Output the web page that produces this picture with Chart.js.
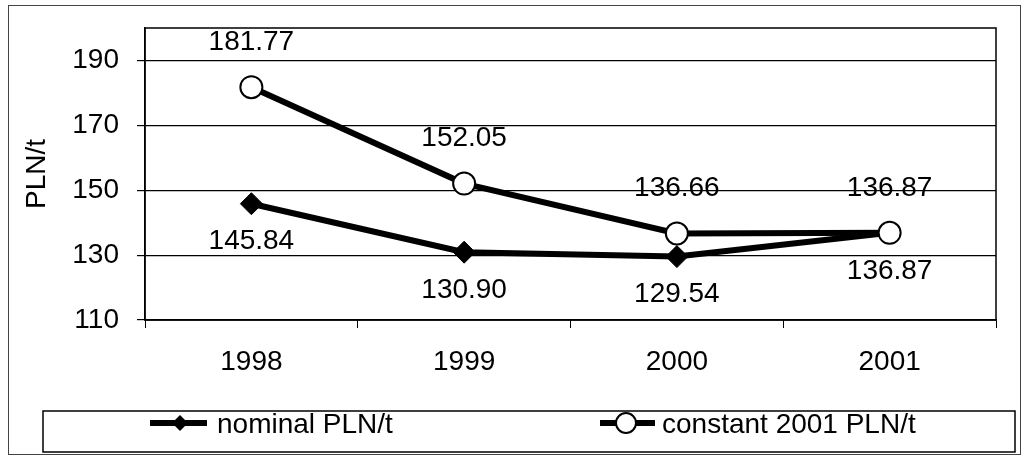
<!DOCTYPE html>
<html lang="en">
<head>
  <meta charset="UTF-8">
  <title>PLN/t</title>
  <script src="https://cdn.jsdelivr.net/npm/chart.js"></script>
  <style>
    html, body { margin: 0; padding: 0; background: #fff; }
    #wrap { width: 1025px; height: 457px; }
  </style>
</head>
<body>
  <div id="wrap"><canvas id="myChart" width="1025" height="457"></canvas></div>
  <script>
    const years = ['1998', '1999', '2000', '2001'];
    const nominal = [145.84, 130.90, 129.54, 136.87];
    const constant2001 = [181.77, 152.05, 136.66, 136.87];
    const yTickValues = [110, 130, 150, 170, 190];
    const seriesNames = ['nominal PLN/t', 'constant 2001 PLN/t'];

    const FONT = '"Liberation Sans", Arial, sans-serif';
    const big = { family: FONT, size: 28 };

    // labels next to each point: constant above, nominal below
    const pointLabels = {
      id: 'pointLabels',
      afterDatasetsDraw(chart) {
        const ctx = chart.ctx;
        ctx.save();
        ctx.font = '28px ' + FONT;
        ctx.fillStyle = '#000';
        ctx.textAlign = 'center';
        ctx.textBaseline = 'middle';
        chart.data.datasets.forEach((ds, i) => {
          const meta = chart.getDatasetMeta(i);
          const off = ds.label === seriesNames[1] ? -45 : 38;
          meta.data.forEach((pt, j) => {
            ctx.fillText(ds.data[j].toFixed(2), pt.x, pt.y + off);
          });
        });
        ctx.restore();
      }
    };

    // plot frame
    const frame = {
      id: 'frame',
      beforeDatasetsDraw(chart) {
        const a = chart.chartArea;
        const ctx = chart.ctx;
        ctx.save();
        ctx.strokeStyle = '#000';
        ctx.lineWidth = 1.5;
        ctx.strokeRect(a.left, a.top, a.right - a.left, a.bottom - a.top);
        ctx.restore();
      }
    };

    // legend box and outer border
    const boxLegend = {
      id: 'boxLegend',
      afterDraw(chart) {
        const ctx = chart.ctx;
        ctx.save();
        ctx.strokeStyle = '#444';
        ctx.lineWidth = 1;
        ctx.strokeRect(8.5, 5.5, 1012, 449);
        ctx.strokeStyle = '#000';
        ctx.lineWidth = 1.5;
        ctx.strokeRect(43, 411, 972, 41);

        const ly = 423;
        ctx.lineWidth = 6;
        ctx.beginPath();
        ctx.moveTo(150, ly); ctx.lineTo(207, ly);
        ctx.moveTo(600, ly); ctx.lineTo(655, ly);
        ctx.stroke();

        ctx.fillStyle = '#000';
        ctx.beginPath();
        ctx.moveTo(180, ly - 8); ctx.lineTo(188, ly); ctx.lineTo(180, ly + 8); ctx.lineTo(172, ly);
        ctx.closePath();
        ctx.fill();

        ctx.fillStyle = '#fff';
        ctx.lineWidth = 2;
        ctx.beginPath();
        ctx.arc(626, ly, 10, 0, Math.PI * 2);
        ctx.fill();
        ctx.stroke();

        ctx.fillStyle = '#000';
        ctx.font = '28px ' + FONT;
        ctx.textAlign = 'left';
        ctx.textBaseline = 'alphabetic';
        ctx.fillText(seriesNames[0], 217, 433);
        ctx.fillText(seriesNames[1], 662, 433);
        ctx.restore();
      }
    };

    const ctx = document.getElementById('myChart');

    new Chart(ctx, {
      type: 'line',
      data: {
        labels: years,
        datasets: [
          {
            label: seriesNames[1],
            data: constant2001,
            borderColor: '#000',
            borderWidth: 6,
            pointStyle: 'circle',
            pointRadius: 11,
            pointBackgroundColor: '#fff',
            pointBorderColor: '#000',
            pointBorderWidth: 2,
            tension: 0
          },
          {
            label: seriesNames[0],
            data: nominal,
            borderColor: '#000',
            borderWidth: 6,
            pointStyle: 'rectRot',
            pointRadius: 11,
            pointBackgroundColor: '#000',
            pointBorderColor: '#000',
            pointBorderWidth: 1,
            tension: 0
          }
        ]
      },
      options: {
        responsive: false,
        animation: false,
        events: [],
        layout: { padding: { left: 10, top: 28, right: 29, bottom: 0 } },
        plugins: {
          legend: { display: false },
          tooltip: { enabled: false }
        },
        scales: {
          x: {
            offset: true,
            grid: { offset: true, drawOnChartArea: false, color: '#000', tickLength: 8 },
            border: { color: '#000', width: 1.5 },
            ticks: { font: big, color: '#000', padding: 17, maxRotation: 0 },
            afterFit: s => { s.height = 137; }
          },
          y: {
            min: 110,
            max: 200,
            afterBuildTicks: s => { s.ticks = yTickValues.map(v => ({ value: v })); },
            ticks: { font: big, color: '#000', padding: 18 },
            grid: { color: '#000', tickLength: 8, lineWidth: 1.2 },
            border: { color: '#000', width: 1.5 },
            title: { display: true, text: 'PLN/t', font: big, color: '#000', padding: { top: 10, bottom: 0 } },
            afterFit: s => { s.width = 135; s.paddingTop = 0; s.paddingBottom = 0; }
          }
        }
      },
      plugins: [frame, pointLabels, boxLegend]
    });
  </script>
</body>
</html>
